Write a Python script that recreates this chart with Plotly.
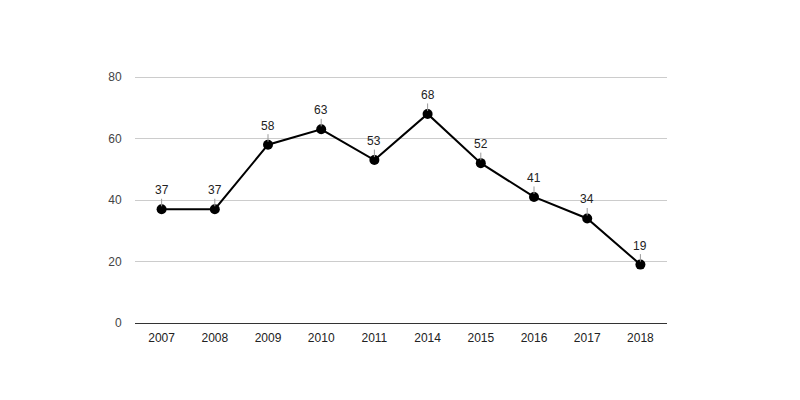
import plotly.graph_objects as go

years = ["2007", "2008", "2009", "2010", "2011", "2014", "2015", "2016", "2017", "2018"]
values = [37, 37, 58, 63, 53, 68, 52, 41, 34, 19]
y_ticks = [0, 20, 40, 60, 80]

fig = go.Figure()
fig.add_trace(go.Scatter(
    x=years, y=values, mode="lines+markers",
    line=dict(color="#000000", width=2),
    marker=dict(color="#000000", size=10),
    hoverinfo="x+y", showlegend=False,
))

for i, v in enumerate(values):
    fig.add_annotation(
        x=i, y=v, xref="x", yref="y", text=str(v),
        showarrow=True, arrowhead=0, arrowwidth=1, arrowcolor="#999999",
        ax=0, ay=-19, standoff=3,
        font=dict(family="Arial", size=12, color="#222222"),
    )

fig.update_layout(
    width=800, height=400,
    margin=dict(l=135, r=133, t=74, b=77),
    paper_bgcolor="#ffffff", plot_bgcolor="#ffffff",
    font=dict(family="Arial", size=12, color="#444444"),
    xaxis=dict(type="category", range=[-0.5, 9.5], showgrid=False, zeroline=False,
               showline=False, ticks="outside", ticklen=4, tickcolor="rgba(0,0,0,0)",
               tickfont=dict(color="#222222")),
    yaxis=dict(range=[0, 81], tickvals=y_ticks, showgrid=True, gridcolor="#cccccc",
               gridwidth=1, zeroline=True, zerolinecolor="#333333", zerolinewidth=1,
               showline=False, ticks="outside", ticklen=10, tickcolor="rgba(0,0,0,0)",
               tickfont=dict(color="#444444")),
)

fig.write_html("out.html", post_script="document.body.style.margin='0';",
               config={"displayModeBar": False})
